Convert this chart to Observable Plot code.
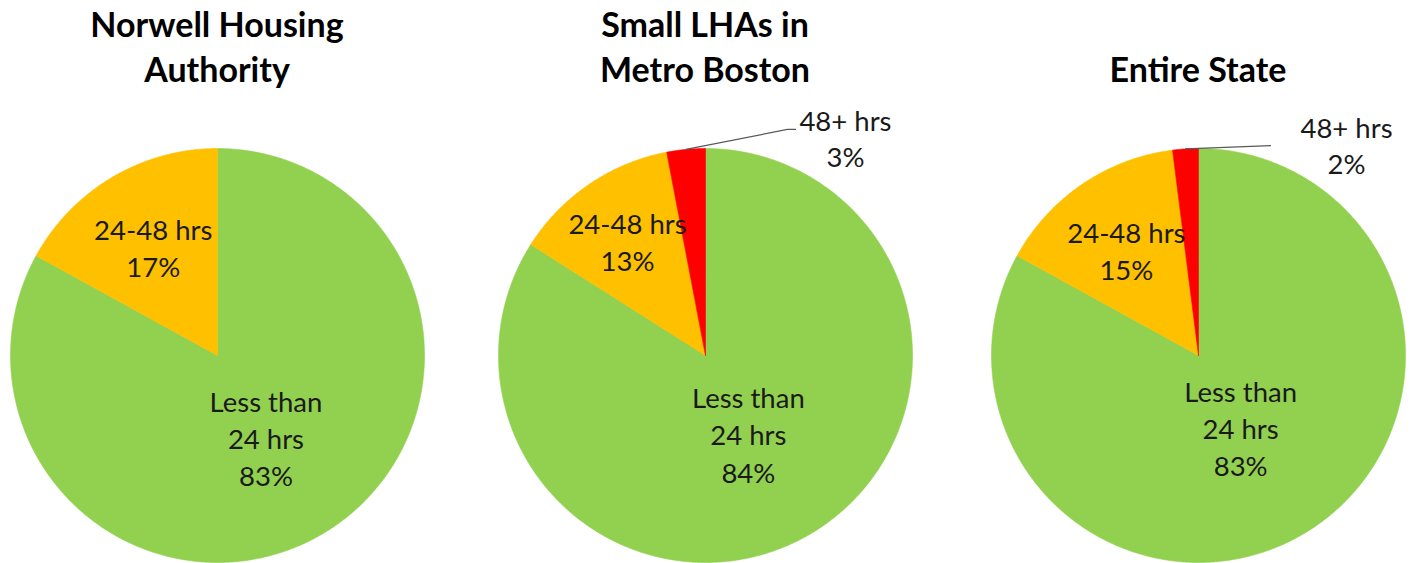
<!DOCTYPE html>
<html>
<head>
<meta charset="utf-8">
<script src="https://cdn.jsdelivr.net/npm/d3@7"></script>
<script src="https://cdn.jsdelivr.net/npm/@observablehq/plot@0.6"></script>
<style>
  html, body { margin: 0; padding: 0; background: #fff; }
  #wrap { position: relative; width: 1412px; height: 563px; overflow: hidden; font-family: Lato, "Open Sans", sans-serif; }
  .panel { position: absolute; top: 0; width: 490px; height: 563px; }
  .title { position: absolute; top: 0; left: 0; width: 490px; height: 91px; display: flex; flex-direction: column; justify-content: flex-end; align-items: center; font-weight: bold; font-size: 34px; line-height: 45px; color: #000; }
  .plot { position: absolute; top: 95px; left: 0; }
</style>
</head>
<body>
<div id="wrap"></div>
<script>
// ---- data ----
const chartTitles = [["Norwell Housing", "Authority"], ["Small LHAs in", "Metro Boston"], ["Entire State"]];
const categories = ["Less than 24 hrs", "24-48 hrs", "48+ hrs"];
const sliceLabels = ["Less than\n24 hrs", "24-48 hrs", "48+ hrs"];
const norwellValues = [83, 17, 0];
const metroBostonValues = [84, 13, 3];
const entireStateValues = [83, 15, 2];
const sliceColors = ["#92D050", "#FFC000", "#FF0000"];
const seriesValues = [norwellValues, metroBostonValues, entireStateValues];

// ---- layout (not data) ----
const centersX = [217, 705, 1198];
const R = 207;
const labelLayout = [
  { inner: [0.46, 0.61], outside: null },
  { inner: [0.43, 0.67], outside: { lineEnd: [[0.396, 1.092], [0.435, 1.092]], text: [0.676, 1.053] } },
  { inner: [0.40, 0.62], outside: { lineEnd: [[0.348, 1.014]], text: [0.715, 1.02] } }
];

const wrap = document.getElementById("wrap");

seriesValues.forEach((values, ci) => {
  const total = d3.sum(values);
  let acc = 0;
  const slices = values.map((v, i) => {
    const a0 = acc / total * 2 * Math.PI;
    acc += v;
    const a1 = acc / total * 2 * Math.PI;
    return { i, v, a0, a1, mid: (a0 + a1) / 2, cat: categories[i] };
  }).filter(s => s.v > 0);

  // polygon outlines of each slice (geometry derived from the values)
  const pts = [];
  slices.forEach(s => {
    pts.push({ x: 0, y: 0, cat: s.cat });
    const n = Math.max(2, Math.ceil((s.a1 - s.a0) / (Math.PI / 360)));
    for (let k = 0; k <= n; k++) {
      const a = s.a0 + (s.a1 - s.a0) * k / n;
      pts.push({ x: Math.sin(a), y: Math.cos(a), cat: s.cat });
    }
    pts.push({ x: 0, y: 0, cat: s.cat });
  });

  const lay = labelLayout[ci];
  const inside = [];
  const outside = [];
  const leader = [];
  slices.forEach(s => {
    const txt = sliceLabels[s.i] + "\n" + s.v + "%";
    if (s.i < 2) {
      const r = lay.inner[s.i];
      inside.push({ x: r * Math.sin(s.mid), y: r * Math.cos(s.mid), text: txt });
    } else if (lay.outside) {
      outside.push({ x: lay.outside.text[0], y: lay.outside.text[1], text: txt });
      leader.push({ x: Math.sin(s.mid), y: Math.cos(s.mid) });
      lay.outside.lineEnd.forEach(p => leader.push({ x: p[0], y: p[1] }));
    }
  });

  const panel = document.createElement("div");
  panel.className = "panel";
  panel.style.left = (centersX[ci] - 245) + "px";
  const title = document.createElement("div");
  title.className = "title";
  chartTitles[ci].forEach(line => {
    const d = document.createElement("div");
    d.textContent = line;
    title.appendChild(d);
  });
  panel.appendChild(title);

  const plot = Plot.plot({
    width: 490,
    height: 468,
    margin: 0,
    style: { fontFamily: "Lato, 'Open Sans', sans-serif", background: "transparent" },
    x: { domain: [-1, 1], range: [245 - R, 245 + R], axis: null },
    y: { domain: [-1, 1], range: [260 + R, 260 - R], axis: null },
    color: { domain: categories, range: sliceColors },
    marks: [
      Plot.line(pts, { x: "x", y: "y", z: "cat", fill: "cat", stroke: "cat", strokeWidth: 0.6, curve: "linear" }),
      Plot.line(leader, { x: "x", y: "y", stroke: "#595959", strokeWidth: 1.2 }),
      Plot.text(inside, { x: "x", y: "y", text: "text", fontSize: 27.5, lineHeight: 1.35, fill: "#1a1a1a" }),
      Plot.text(outside, { x: "x", y: "y", text: "text", fontSize: 27.5, lineHeight: 1.3, fill: "#1a1a1a" })
    ]
  });
  plot.classList.add("plot");
  panel.appendChild(plot);
  wrap.appendChild(panel);
});
</script>
</body>
</html>
